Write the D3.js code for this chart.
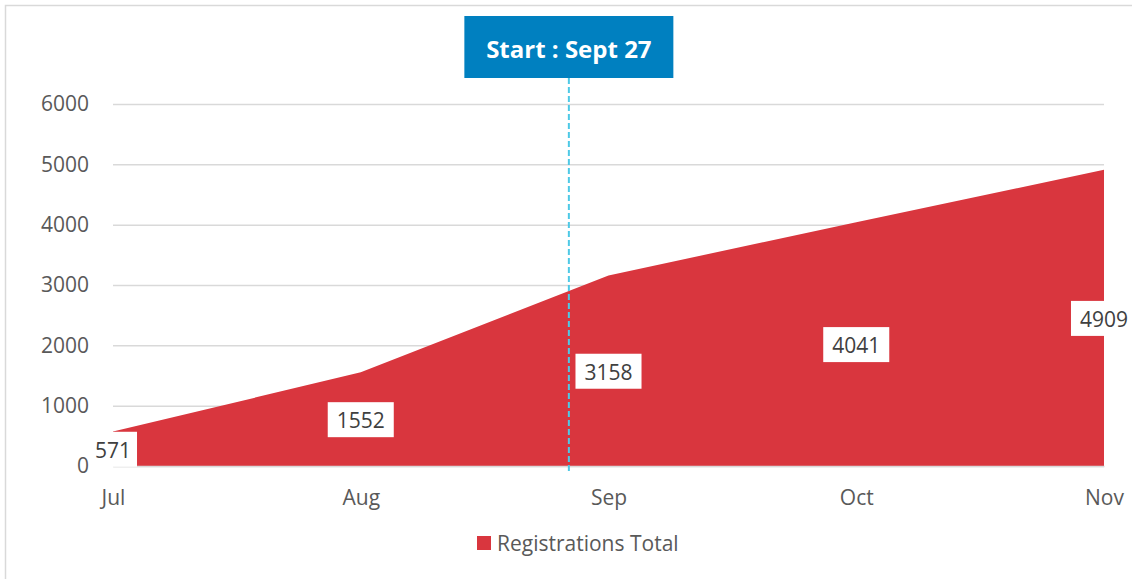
<!DOCTYPE html>
<html>
<head>
<meta charset="utf-8">
<script src="https://cdn.jsdelivr.net/npm/d3@7"></script>
<style>
  html, body { margin: 0; padding: 0; background: #fff; }
  svg { display: block; font-family: "Open Sans", "Noto Sans", sans-serif; }
</style>
</head>
<body>
<svg id="chart" width="1132" height="579"></svg>
<script>
const months = ["Jul", "Aug", "Sep", "Oct", "Nov"];
const registrations = [571, 1552, 3158, 4041, 4909];
const yTicks = [0, 1000, 2000, 3000, 4000, 5000, 6000];
const seriesName = "Registrations Total";
const annotationText = "Start : Sept 27";
const annotationIndex = 1.84; // position between Aug and Sep (in month units)

const svg = d3.select("#chart");
const W = 1132, H = 579;
const margin = { left: 113, right: 28, top: 104, bottom: 113 };
const FS = 21;

// frame border (top and left visible)
svg.append("path")
  .attr("d", `M5.5,${H} V5.5 H${W}`)
  .attr("fill", "none").attr("stroke", "#d9d9d9").attr("stroke-width", 1.5);

const x = d3.scalePoint().domain(months).range([margin.left, W - margin.right]);
const xi = d3.scaleLinear().domain([0, months.length - 1]).range([margin.left, W - margin.right]);
const y = d3.scaleLinear().domain([0, 6000]).range([H - margin.bottom, margin.top]);

// gridlines
const grid = d3.axisLeft(y).tickValues(yTicks).tickSize(-(W - margin.right - margin.left)).tickFormat("");
const gg = svg.append("g").attr("transform", `translate(${margin.left},0)`).call(grid);
gg.select(".domain").remove();
gg.selectAll(".tick line").attr("stroke", "#d9d9d9").attr("stroke-width", 1.5);

// area
const data = months.map((m, i) => ({ m, v: registrations[i] }));
const area = d3.area().x(d => x(d.m)).y0(y(0)).y1(d => y(d.v));
svg.append("path").datum(data).attr("d", area).attr("fill", "#d9363e");

// baseline axis
const xAxis = d3.axisBottom(x).tickSize(0).tickPadding(24);
const gx = svg.append("g").attr("transform", `translate(0,${y(0)})`).call(xAxis);
gx.select(".domain").attr("stroke", "#d9d9d9").attr("stroke-width", 1.5);
gx.selectAll(".tick text").attr("fill", "#595959").attr("font-size", FS)
  .attr("font-family", "'Open Sans', sans-serif");

// annotation line
const ax = xi(annotationIndex);
svg.append("line")
  .attr("x1", ax).attr("x2", ax).attr("y1", 78).attr("y2", y(0) + 5)
  .attr("stroke", "#4ec9e6").attr("stroke-width", 2).attr("stroke-dasharray", "6,3");

// annotation box
const boxW = 209, boxH = 62;
svg.append("rect").attr("x", ax - boxW / 2).attr("y", 16).attr("width", boxW).attr("height", boxH)
  .attr("fill", "#0080c0");
svg.append("text").attr("x", ax).attr("y", 48).attr("text-anchor", "middle").attr("dominant-baseline", "central")
  .attr("fill", "#fff").attr("font-weight", "bold").attr("font-size", 24)
  .attr("font-family", "'Open Sans', sans-serif")
  .text(annotationText);

// data labels
const lbl = svg.append("g");
data.forEach((d, i) => {
  const cx = x(d.m), cy = y(d.v / 2);
  const g = lbl.append("g");
  const t = g.append("text").attr("x", cx).attr("y", cy + 1).attr("text-anchor", "middle")
    .attr("dominant-baseline", "central").attr("fill", "#404040").attr("font-size", FS)
    .attr("font-family", "'Open Sans', sans-serif").text(d.v);
  const pad = i === 0 ? 6 : 9;
  const bw = t.node().getComputedTextLength() + 2 * pad;
  g.insert("rect", "text").attr("x", cx - bw / 2).attr("y", cy - 17).attr("width", bw).attr("height", 35)
    .attr("fill", "#fff");
});

// y tick labels (drawn on top)
const yAxis = d3.axisLeft(y).tickValues(yTicks).tickSize(0).tickPadding(24).tickFormat(d3.format("d"));
const gy = svg.append("g").attr("transform", `translate(${margin.left},0)`).call(yAxis);
gy.select(".domain").remove();
gy.selectAll(".tick text").attr("fill", "#595959").attr("font-size", FS)
  .attr("font-family", "'Open Sans', sans-serif");

// legend
const lg = svg.append("g");
lg.append("text").attr("x", 497).attr("y", 543).attr("dominant-baseline", "central")
  .attr("fill", "#595959").attr("font-size", FS).attr("font-family", "'Open Sans', sans-serif").text(seriesName);
lg.append("rect").attr("x", 477).attr("y", 536).attr("width", 14).attr("height", 14).attr("fill", "#d9363e");
</script>
</body>
</html>
